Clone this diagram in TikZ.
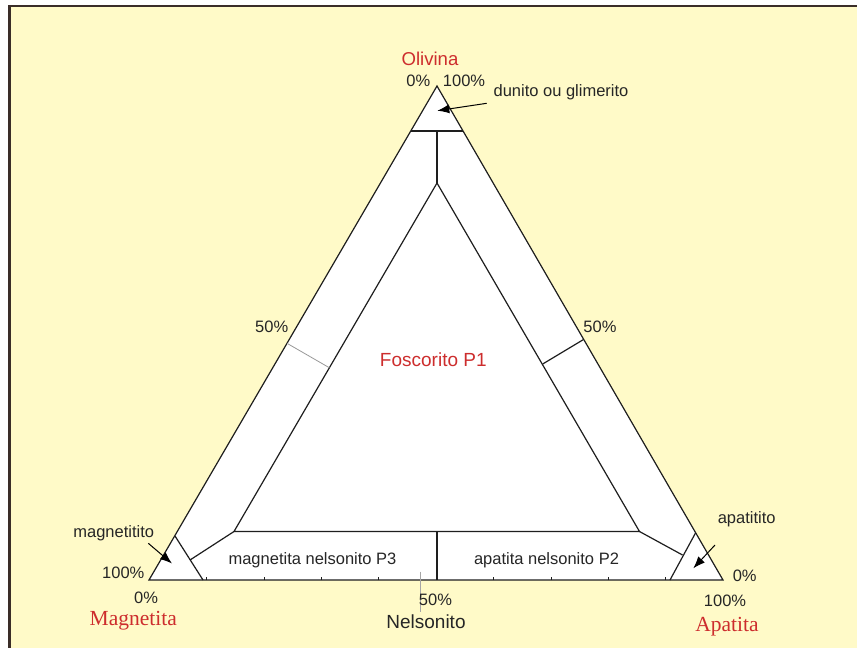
\documentclass[tikz,border=0pt]{standalone}
\usepackage{fontspec}
\setmainfont{Liberation Sans}
\newfontfamily\serifrm{Liberation Serif}
\usetikzlibrary{arrows.meta}
\definecolor{bgyellow}{RGB}{255,250,200}
\definecolor{framedark}{RGB}{58,45,40}
\definecolor{labred}{RGB}{205,45,45}
\definecolor{linegray}{RGB}{30,30,30}
\begin{document}
\begin{tikzpicture}[x=1pt,y=-1pt,
  edge/.style={draw=linegray,line width=1.2pt,line join=miter},
  thinedge/.style={draw=gray!80,line width=0.8pt},
  lbl/.style={inner sep=0pt,anchor=base,font=\fontsize{16.5}{18}\selectfont,text=black!85},
  redlbl/.style={inner sep=0pt,anchor=base,font=\fontsize{19}{21}\selectfont,text=labred},
  redser/.style={inner sep=0pt,anchor=base,font=\serifrm\fontsize{21.5}{23}\selectfont,text=labred},
  ptr/.style={draw=black,line width=1pt,-{Latex[length=12pt,width=9pt]}},
  tickmark/.style={draw=linegray,line width=0.6pt}]
\useasboundingbox (0,0) rectangle (857,648);
\fill[white] (0,0) rectangle (857,648);
\fill[bgyellow] (9.5,6) rectangle (857,648);
\draw[framedark,line width=2.2pt] (9.5,648) -- (9.5,6) -- (857,6);
% outer triangle
\coordinate (O) at (437,86);
\coordinate (M) at (149,580);
\coordinate (A) at (723,580);
% inner triangle
\coordinate (I1) at (437,183);
\coordinate (I2) at (234,531.5);
\coordinate (I3) at (639.5,531.5);
% cuts
\coordinate (T1) at (411,131);
\coordinate (T2) at (463,131);
\coordinate (Tm) at (437,131);
\coordinate (ML1) at (175,536);
\coordinate (ML2) at (203,580);
\coordinate (MLm) at (190,560);
\coordinate (AR1) at (695.5,533);
\coordinate (AR2) at (670,580);
\coordinate (ARm) at (682.5,555);
\coordinate (Bt) at (437,531.5);
\coordinate (Bb) at (437,580);
\coordinate (L1) at (287,343.3);
\coordinate (L2) at (329.3,367.7);
\coordinate (R1) at (583.5,339.5);
\coordinate (R2) at (542.7,364);
\fill[white] (O) -- (M) -- (A) -- cycle;
\draw[edge] (O) -- (M) -- (A) -- cycle;
\draw[edge] (I1) -- (I2) -- (I3) -- cycle;
\draw[edge] (T1) -- (T2);
\draw[edge] (Tm) -- (I1);
\draw[edge] (ML1) -- (ML2);
\draw[edge] (I2) -- (MLm);
\draw[edge] (AR1) -- (AR2);
\draw[edge] (I3) -- (ARm);
\draw[edge] (Bt) -- (Bb);
\draw[thinedge] (L1) -- (L2);
\draw[edge] (R1) -- (R2);
% ticks
\foreach \k in {1,...,9} {
  \draw[tickmark] ({149+57.4*\k},580) -- ({149+57.4*\k},576.5);
}
\coordinate (V1) at (420.7,571.7);
\coordinate (V2) at (420.7,611.7);
\draw[draw=gray!70,line width=0.5pt] (V1) -- (V2);
% labels
\node[redlbl,font=\fontsize{18.6}{20}\selectfont] (olv) at (430,65) {Olivina};
\node[lbl] (o0) at (418.3,86.7) {0\%};
\node[lbl] (o100) at (464,86.7) {100\%};
\node[lbl] (dun) at (561,96) {dunito ou glimerito};
\node[lbl] (mgt) at (113.7,537.3) {magnetitito};
\node[lbl] (m100) at (123.3,578.3) {100\%};
\node[lbl] (m0) at (146,603.3) {0\%};
\node[redser] (mag) at (133.3,625.7) {Magnetita};
\node[lbl] (mnp) at (312.5,564) {magnetita nelsonito P3};
\node[lbl] (anp) at (546.5,564) {apatita nelsonito P2};
\node[lbl] (n50) at (435.5,605) {50\%};
\node[lbl,font=\fontsize{19}{21}\selectfont] (nel) at (426,628.6) {Nelsonito};
\node[redlbl] (fos) at (433.3,366.5) {Foscorito P1};
\node[lbl] (l50) at (271.7,332.7) {50\%};
\node[lbl] (r50) at (600,332.7) {50\%};
\node[lbl] (apt) at (746.7,523.5) {apatitito};
\node[lbl] (a0) at (744.7,581.7) {0\%};
\node[lbl] (a100) at (725,606) {100\%};
\node[redser] (apa) at (727,631) {Apatita};
% pointers
\coordinate (dunS) at (486.7,103.3);
\coordinate (dunE) at (437.3,110.7);
\coordinate (mgtS) at (148.3,543.3);
\coordinate (mgtE) at (172,563.5);
\coordinate (aptS) at (715,545);
\coordinate (aptE) at (693.3,568.3);
\draw[ptr] (dunS) -- (dunE);
\draw[ptr] (mgtS) -- (mgtE);
\draw[ptr] (aptS) -- (aptE);
\end{tikzpicture}
\end{document}
